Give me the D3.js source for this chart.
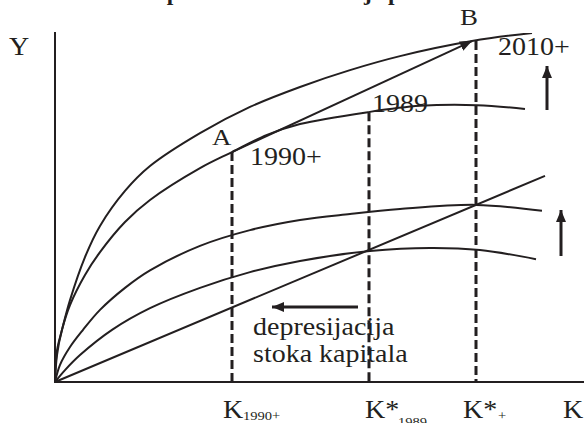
<!DOCTYPE html>
<html>
<head>
<meta charset="utf-8">
<script src="https://cdn.jsdelivr.net/npm/d3@7"></script>
<style>
  body { margin: 0; background: #fff; }
  text { font-family: "Liberation Serif", "Times New Roman", serif; fill: #231f20; }
</style>
</head>
<body>
<div id="chart"></div>
<script>
// Curves, as [K, Y] in a 0..100 units frame
var curve2010 = [[0,0],[0.4,9],[1.4,14.9],[3,23.4],[6,35.7],[9,44.6],[14,54.6],[19,61.7],
  [29,71.1],[39,78.6],[49,84.3],[59,89.1],[69,93.1],[83.4,97.4],[95.4,99.7]];
var curve1990 = [[0,0],[0.4,7.7],[1.4,14.9],[3,22],[6,30.6],[9,37.1],[14,45.7],[19,52],[29,61.1],
  [35.4,65.7],[42.4,70.6],[49,73.7],[62.6,77.1],[73,78.9],[84.4,79.1],[94,78]];
var curveInvHigh = [[0,0],[1,4.9],[3,10],[5.6,14.9],[9,20.6],[14,26.9],[19,31.9],[29,38.9],[39,43.4],
  [49,46.3],[59,48],[69,49.4],[84.2,50.6],[97.4,48.9]];
var curveInvLow = [[0,0],[2,3.4],[5,7.7],[11.4,14.9],[19,21.1],[29,26.9],[39,31.4],[49,34.6],
  [63,37.4],[75,38.3],[85,37.7],[96.2,35.1]];
var depreciation = [[0,0],[98,58.9]];

var pointA = [35.4, 65.7];
var pointB = [83.4, 97.4];
// steady-state markers: K value and top of the dashed drop line
var dropLines = [[35.4, 65.7], [62.8, 77.1], [84.2, 97.4]];

var svgWidth = 584;
var svgHeight = 423;
var ink = "#231f20";

var svg = d3.select("#chart")
  .append("svg")
  .attr("width", svgWidth)
  .attr("height", svgHeight)
  .style("display", "block");

var xScale = d3.scaleLinear().domain([0, 100]).range([55, 555]);
var yScale = d3.scaleLinear().domain([0, 100]).range([382, 32]);

// arrowhead
svg.append("defs").append("marker")
  .attr("id", "head")
  .attr("markerUnits", "userSpaceOnUse")
  .attr("viewBox", "0 0 12 12")
  .attr("refX", 12).attr("refY", 6)
  .attr("markerWidth", 12).attr("markerHeight", 12)
  .attr("orient", "auto")
  .append("path")
  .attr("d", "M0,1 L12,6 L0,11 Z")
  .attr("fill", ink);

// title, cut off by the top edge
svg.append("text")
  .attr("transform", "translate(14,0) scale(1.12,1)")
  .style("font-weight", "bold")
  .style("font-size", "21px")
  .text("Efekti rasta stope nacionalne štednje pri tehnološkom rastu");

// axes
svg.append("line")
  .attr("x1", xScale(0)).attr("y1", yScale(0))
  .attr("x2", xScale(0)).attr("y2", yScale(100))
  .attr("stroke", ink).attr("stroke-width", 2);
svg.append("line")
  .attr("x1", xScale(0) - 1).attr("y1", yScale(0))
  .attr("x2", svgWidth).attr("y2", yScale(0))
  .attr("stroke", ink).attr("stroke-width", 2);

var line = d3.line()
  .x(d => xScale(d[0]))
  .y(d => yScale(d[1]))
  .curve(d3.curveCatmullRom.alpha(0.5));

[curve2010, curve1990, curveInvHigh, curveInvLow, depreciation].forEach(function(c) {
  svg.append("path")
    .attr("d", line(c))
    .attr("fill", "none")
    .attr("stroke", ink)
    .attr("stroke-width", 2);
});

// dashed drop lines
svg.selectAll(".drop")
  .data(dropLines)
  .enter()
  .append("line")
  .attr("x1", d => xScale(d[0])).attr("x2", d => xScale(d[0]))
  .attr("y1", d => yScale(d[1])).attr("y2", yScale(0))
  .attr("stroke", ink)
  .attr("stroke-width", 3)
  .attr("stroke-dasharray", "9,4");

// A -> B
svg.append("line")
  .attr("x1", xScale(pointA[0])).attr("y1", yScale(pointA[1]))
  .attr("x2", xScale(pointB[0])).attr("y2", yScale(pointB[1]))
  .attr("stroke", ink).attr("stroke-width", 2)
  .attr("marker-end", "url(#head)");

// shift arrows
function arrow(x1, y1, x2, y2) {
  svg.append("line")
    .attr("x1", x1).attr("y1", y1).attr("x2", x2).attr("y2", y2)
    .attr("stroke", ink).attr("stroke-width", 3)
    .attr("marker-end", "url(#head)");
}
arrow(547, 110, 547, 66);
arrow(561, 256, 561, 210);
arrow(358, 307, 272, 307);

// labels (the reference type is a little wider than Liberation Serif)
function label(x, y, t, size) {
  return svg.append("text")
    .attr("transform", `translate(${x},${y}) scale(1.12,1)`)
    .style("font-size", (size || 25) + "px")
    .text(t);
}
label(9, 55, "Y");
label(460, 25, "B", 24);
label(212, 145, "A", 24);
label(498, 55, "2010+");
label(372, 112, "1989");
label(250, 165, "1990+");
label(253, 335, "depresijacija");
label(253, 362, "stoka kapitala");

label(223, 418, "K");
label(243, 420, "1990+", 13);
label(365, 418, "K*");
label(398, 426, "1989", 13);
label(463, 418, "K*");
label(498, 420, "+", 13);
label(563, 418, "K");
</script>
</body>
</html>
